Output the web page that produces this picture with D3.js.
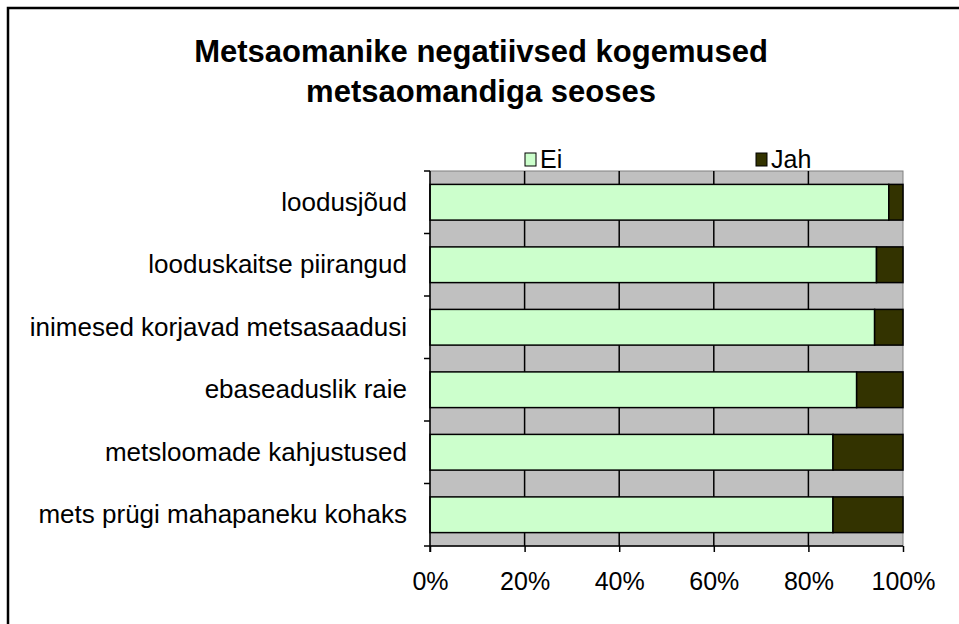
<html>
  <style type="text/css">
    body { margin: 0; background: #fff; }
    text { font-family: "Liberation Sans", Arial, sans-serif; }
  </style>
  <body>
    <script src="https://cdnjs.cloudflare.com/ajax/libs/d3/7.8.5/d3.min.js"></script>
    <script type="text/javascript">
      const categories = [
        "loodusjõud",
        "looduskaitse piirangud",
        "inimesed korjavad metsasaadusi",
        "ebaseaduslik raie",
        "metsloomade kahjustused",
        "mets prügi mahapaneku kohaks"
      ];
      const eiValues = [97, 94.4, 94, 90.2, 85.2, 85.2];
      const jahValues = [3, 5.6, 6, 9.8, 14.8, 14.8];
      const seriesNames = ["Ei", "Jah"];
      const seriesColors = ["#CCFFCC", "#333300"];
      const tickValues = [0, 20, 40, 60, 80, 100];

      const W = 959, H = 624;
      const plot = { left: 430, right: 903, top: 171, bottom: 546 };
      const fs = 25;

      let svg = d3.select("body").append("svg")
        .attr("width", W).attr("height", H);

      // outer frame (right/bottom edges fall outside the picture)
      svg.append("rect")
        .attr("x", 8).attr("y", 8).attr("width", W).attr("height", H)
        .attr("fill", "none").attr("stroke", "#000").attr("stroke-width", 2.5);

      // title
      let title = svg.append("text")
        .attr("text-anchor", "middle")
        .attr("font-weight", "bold").attr("font-size", 31);
      title.append("tspan").attr("x", 481).attr("y", 62).text("Metsaomanike negatiivsed kogemused");
      title.append("tspan").attr("x", 481).attr("y", 102).text("metsaomandiga seoses");

      // legend
      const legendX = [525, 756];
      let legend = svg.selectAll("g.legend").data(seriesNames).enter()
        .append("g").attr("class", "legend")
        .attr("transform", (d, i) => `translate(${legendX[i]}, 0)`);
      legend.append("rect")
        .attr("x", 0).attr("y", 153).attr("width", 11).attr("height", 13)
        .attr("fill", (d, i) => seriesColors[i]).attr("stroke", "#000").attr("stroke-width", 1);
      legend.append("text")
        .attr("x", 15).attr("y", 168).attr("font-size", fs).text(d => d);

      const x = d3.scaleLinear().domain([0, 100]).range([plot.left, plot.right]);
      const y = d3.scaleBand().domain(categories).range([plot.top, plot.bottom]).paddingInner(0.4286).paddingOuter(0.2143);

      // plot background
      svg.append("rect")
        .attr("x", plot.left).attr("y", plot.top)
        .attr("width", plot.right - plot.left).attr("height", plot.bottom - plot.top)
        .attr("fill", "#C0C0C0").attr("stroke", "#808080").attr("stroke-width", 1);

      // gridlines
      svg.append("g").selectAll("line").data(tickValues.slice(1, -1)).enter()
        .append("line")
        .attr("x1", d => x(d)).attr("x2", d => x(d))
        .attr("y1", plot.top).attr("y2", plot.bottom)
        .attr("stroke", "#000").attr("stroke-width", 1.5);

      // stacked bars
      const stacked = categories.map((c, i) => ({ cat: c, parts: [[0, eiValues[i]], [eiValues[i], eiValues[i] + jahValues[i]]] }));
      let rows = svg.append("g").selectAll("g").data(stacked).enter().append("g");
      rows.selectAll("rect").data(d => d.parts.map((p, k) => ({ cat: d.cat, p, k }))).enter()
        .append("rect")
        .attr("x", d => x(d.p[0]))
        .attr("width", d => x(d.p[1]) - x(d.p[0]))
        .attr("y", d => y(d.cat))
        .attr("height", y.bandwidth())
        .attr("fill", d => seriesColors[d.k])
        .attr("stroke", "#000").attr("stroke-width", 1.5);

      // y axis
      let yAxis = d3.axisLeft(y).tickSize(0).tickPadding(23);
      let yg = svg.append("g").attr("transform", `translate(${plot.left},0)`).call(yAxis);
      yg.select(".domain").remove();
      yg.selectAll("text").attr("font-size", 26).attr("fill", "#000").attr("font-family", "Liberation Sans, Arial, sans-serif");
      const step = (plot.bottom - plot.top) / categories.length;
      svg.append("line")
        .attr("x1", plot.left).attr("x2", plot.left)
        .attr("y1", plot.top).attr("y2", plot.bottom + 6)
        .attr("stroke", "#000").attr("stroke-width", 1.5);
      svg.append("g").selectAll("line").data(d3.range(categories.length + 1)).enter()
        .append("line")
        .attr("x1", plot.left - 6).attr("x2", plot.left)
        .attr("y1", d => plot.top + d * step).attr("y2", d => plot.top + d * step)
        .attr("stroke", "#000").attr("stroke-width", 1.5);

      // x axis
      let xAxis = d3.axisBottom(x).tickValues(tickValues).tickSize(6).tickPadding(20).tickFormat(d => d + "%");
      let xg = svg.append("g").attr("transform", `translate(0,${plot.bottom})`).call(xAxis);
      xg.select(".domain").attr("stroke", "#000").attr("stroke-width", 1.5).attr("d", `M${plot.left},0H${plot.right}`);
      xg.selectAll(".tick line").attr("stroke", "#000").attr("stroke-width", 1.5);
      xg.selectAll("text").attr("font-size", fs).attr("fill", "#000").attr("font-family", "Liberation Sans, Arial, sans-serif");
    </script>
  </body>
</html>
